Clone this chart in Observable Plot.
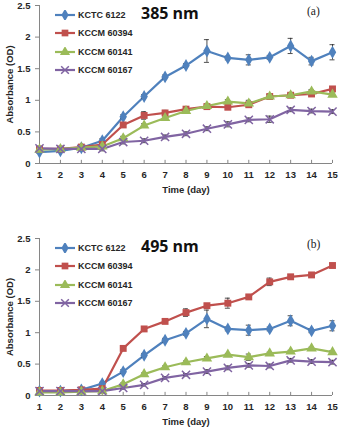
<!DOCTYPE html>
<html><head><meta charset="utf-8">
<script src="https://cdn.jsdelivr.net/npm/d3@7"></script>
<script src="https://cdn.jsdelivr.net/npm/@observablehq/plot@0.6"></script>
<style>
body{margin:0;background:#fff;font-family:Arial,"Liberation Sans",sans-serif;}
#wrap{position:relative;width:340px;height:430px;}
.panel{position:relative;width:340px;height:215px;}
.title{position:absolute;font-family:"Open Sans",Lato,sans-serif;font-weight:bold;font-size:16px;color:#111;}
.tag{position:absolute;font-family:"Liberation Serif","DejaVu Serif",serif;font-size:11.5px;color:#222;}
.leg{position:absolute;left:54px;}
.leg div{display:flex;align-items:center;height:18.3px;font-weight:bold;font-size:9px;color:#262626;}
.leg svg{margin-right:2px;}
</style></head><body>
<div id="wrap"></div>
<script>
const days = [1,2,3,4,5,6,7,8,9,10,11,12,13,14,15];
const seriesNames = ["KCTC 6122","KCCM 60394","KCCM 60141","KCCM 60167"];
const colors = ["#4F81BD","#C0504D","#9BBB59","#8064A2"];
const symbols = ["diamond","square","triangle","times"];

// Panel (a) 385 nm
const a_kctc6122  = [0.18,0.20,0.25,0.36,0.74,1.06,1.37,1.55,1.78,1.67,1.64,1.68,1.86,1.62,1.76];
const a_kccm60394 = [0.23,0.23,0.26,0.30,0.61,0.76,0.80,0.86,0.90,0.89,0.93,1.06,1.08,1.10,1.18];
const a_kccm60141 = [0.22,0.23,0.25,0.27,0.40,0.60,0.72,0.83,0.91,0.98,0.95,1.06,1.08,1.14,1.09];
const a_kccm60167 = [0.24,0.23,0.23,0.23,0.34,0.36,0.42,0.47,0.55,0.62,0.69,0.70,0.85,0.83,0.82];
const a_err6122  = [0.02,0.02,0.02,0.03,0.03,0.03,0.03,0.03,0.18,0.03,0.08,0.03,0.12,0.06,0.12];
const a_err60394 = [0.03,0.03,0.03,0.03,0.04,0.06,0.04,0.03,0.03,0.03,0.03,0.03,0.03,0.03,0.03];
const a_err60141 = [0.02,0.02,0.02,0.02,0.03,0.03,0.03,0.03,0.03,0.03,0.05,0.03,0.03,0.03,0.03];
const a_err60167 = [0.03,0.03,0.03,0.03,0.03,0.03,0.03,0.03,0.03,0.04,0.03,0.05,0.03,0.03,0.03];

// Panel (b) 495 nm
const b_kctc6122  = [0.07,0.07,0.09,0.19,0.38,0.64,0.88,0.99,1.22,1.06,1.04,1.06,1.19,1.03,1.11];
const b_kccm60394 = [0.08,0.08,0.09,0.11,0.75,1.06,1.18,1.32,1.43,1.47,1.57,1.81,1.89,1.92,2.07];
const b_kccm60141 = [0.05,0.05,0.06,0.07,0.18,0.34,0.45,0.53,0.59,0.65,0.61,0.67,0.70,0.75,0.69];
const b_kccm60167 = [0.07,0.07,0.07,0.07,0.12,0.17,0.28,0.33,0.38,0.44,0.48,0.47,0.56,0.54,0.53];
const b_err6122  = [0.02,0.02,0.02,0.02,0.03,0.03,0.03,0.03,0.14,0.03,0.08,0.03,0.08,0.03,0.08];
const b_err60394 = [0.02,0.02,0.02,0.02,0.03,0.03,0.03,0.06,0.03,0.08,0.03,0.06,0.03,0.03,0.03];
const b_err60141 = [0.02,0.02,0.02,0.02,0.02,0.02,0.02,0.02,0.03,0.02,0.05,0.02,0.02,0.02,0.02];
const b_err60167 = [0.02,0.02,0.02,0.02,0.02,0.02,0.02,0.02,0.03,0.03,0.03,0.03,0.03,0.03,0.03];

const yTicks = [0,0.5,1,1.5,2,2.5];
const yTickLabels = ["0","0.5","1","1.5","2","2.5"];

function rows(vals, errs){
  const out=[];
  vals.forEach((v,si)=>v.forEach((y,i)=>out.push({day:days[i],y,err:errs[si][i],s:seriesNames[si]})));
  return out;
}

function panel(data, title, tag, mt, mb, titleTop, legTop, xLabOff){
  const div=document.createElement("div");div.className="panel";
  const plot=Plot.plot({
    width:340,height:215,marginLeft:39,marginRight:8,marginTop:mt,marginBottom:mb,
    style:{fontFamily:"Arial, 'Liberation Sans', sans-serif",fontSize:"9.5px",fontWeight:"bold",color:"#262626",background:"#fff"},
    x:{domain:[1,15]},
    y:{domain:[0,2.5]},
    color:{domain:seriesNames,range:colors},
    symbol:{domain:seriesNames,range:symbols},
    marks:[
      Plot.axisX({ticks:days,tickFormat:d=>String(d),label:"Time (day)",labelAnchor:"center",labelArrow:"none",labelOffset:xLabOff,tickSize:0,tickPadding:8}),
      Plot.axisY({ticks:yTicks,tickFormat:(d,i)=>yTickLabels[i],label:"Absorbance (OD)",labelAnchor:"center",labelArrow:"none",labelOffset:33,tickSize:4,tickPadding:5,stroke:"#868686"}),
      Plot.ruleX(days,{x:d=>d,y1:0,y2:0.05,stroke:"#868686"}),
      Plot.ruleX([1],{stroke:"#868686"}),
      Plot.ruleY([0],{stroke:"#868686"}),
      Plot.line(data,{x:"day",y:"y",z:"s",stroke:"s",strokeWidth:2.2}),
      Plot.ruleX(data,{x:"day",y1:d=>d.y-d.err,y2:d=>d.y+d.err,stroke:"#222",strokeWidth:0.8}),
      Plot.ruleY(data,{y:d=>d.y-d.err,x1:d=>d.day-0.12,x2:d=>d.day+0.12,stroke:"#222",strokeWidth:0.8}),
      Plot.ruleY(data,{y:d=>d.y+d.err,x1:d=>d.day-0.12,x2:d=>d.day+0.12,stroke:"#222",strokeWidth:0.8}),
      Plot.dot(data.filter(d=>d.s!=="KCCM 60167"),{x:"day",y:"y",symbol:"s",fill:"s",r:3.9}),
      Plot.dot(data.filter(d=>d.s==="KCCM 60167"),{x:"day",y:"y",symbol:"s",stroke:"s",r:3.8,strokeWidth:1.5})
    ]
  });
  div.appendChild(plot);
  const t=document.createElement("div");t.className="title";t.textContent=title;t.style.left="141px";t.style.top=titleTop+"px";div.appendChild(t);
  const g=document.createElement("div");g.className="tag";g.textContent=tag;g.style.left="307px";g.style.top=(titleTop+3)+"px";div.appendChild(g);
  const leg=document.createElement("div");leg.className="leg";leg.style.top=legTop+"px";
  seriesNames.forEach((n,i)=>{
    const r=document.createElement("div");
    const sym=d3.symbol().type([d3.symbolDiamond,d3.symbolSquare,d3.symbolTriangle,d3.symbolX][i]).size(i===3?40:45)();
    r.innerHTML=`<svg width="22" height="10"><line x1="1" x2="21" y1="5" y2="5" stroke="${colors[i]}" stroke-width="2.2"/><path transform="translate(11,5)" d="${sym}" ${i===3?`fill="none" stroke="${colors[i]}" stroke-width="1.5"`:`fill="${colors[i]}"`}/></svg><span>${n}</span>`;
    leg.appendChild(r);
  });
  div.appendChild(leg);
  return div;
}

const wrap=document.getElementById("wrap");
wrap.appendChild(panel(rows([a_kctc6122,a_kccm60394,a_kccm60141,a_kccm60167],[a_err6122,a_err60394,a_err60141,a_err60167]),"385 nm","(a)",5,52,2,6,29));
wrap.appendChild(panel(rows([b_kctc6122,b_kccm60394,b_kccm60141,b_kccm60167],[b_err6122,b_err60394,b_err60141,b_err60167]),"495 nm","(b)",23,35,20,24,29));
</script>
</body></html>
